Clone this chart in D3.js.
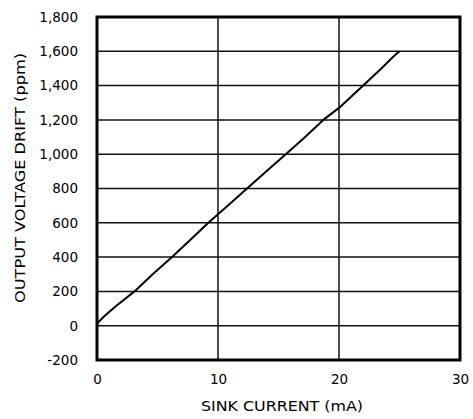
<!DOCTYPE html>
<html>
<head>
<meta charset="utf-8">
<script src="https://cdn.jsdelivr.net/npm/d3@7"></script>
<style>
  html, body { margin: 0; padding: 0; background: #fff; }
  svg { display: block; font-family: "DejaVu Sans", Arial, sans-serif; }
</style>
</head>
<body>
<svg id="chart" width="473" height="419"></svg>
<script>
// Output voltage drift versus sink current
const sinkCurrent = [0, 0.1, 0.6, 1.5, 3.1, 4.6, 6.2, 7.7, 9.2, 10.8, 12.4, 14.0, 15.6, 17.2, 18.7, 20.0, 22.0, 23.5, 24.5, 25.0];
const driftPpm    = [0, 20, 55, 110, 200, 300, 400, 500, 600, 700, 800, 900, 1000, 1100, 1200, 1270, 1400, 1500, 1570, 1600];
const xTicks = [0, 10, 20, 30];
const yTicks = [-200, 0, 200, 400, 600, 800, 1000, 1200, 1400, 1600, 1800];
const xTitle = "SINK CURRENT (mA)";
const yTitle = "OUTPUT VOLTAGE DRIFT (ppm)";

const svg = d3.select("#chart");
const m = { left: 97, right: 460, top: 17, bottom: 360 };
const font = "'DejaVu Sans', Arial, sans-serif";

const x = d3.scaleLinear().domain([0, 30]).range([m.left, m.right]);
const y = d3.scaleLinear().domain([-200, 1800]).range([m.bottom, m.top]);

// grid lines
svg.append("g")
  .selectAll("line")
  .data(yTicks)
  .join("line")
  .attr("x1", m.left).attr("x2", m.right)
  .attr("y1", d => y(d)).attr("y2", d => y(d))
  .attr("stroke", "#111").attr("stroke-width", 1.5);

svg.append("g")
  .selectAll("line")
  .data(xTicks)
  .join("line")
  .attr("x1", d => x(d)).attr("x2", d => x(d))
  .attr("y1", m.top).attr("y2", m.bottom)
  .attr("stroke", "#111").attr("stroke-width", 1.5);

// frame
svg.append("rect")
  .attr("x", m.left).attr("y", m.top)
  .attr("width", m.right - m.left).attr("height", m.bottom - m.top)
  .attr("fill", "none").attr("stroke", "#000").attr("stroke-width", 3);

// data curve
const line = d3.line().x((d, i) => x(sinkCurrent[i])).y(d => y(d));
svg.append("path")
  .datum(driftPpm)
  .attr("d", line)
  .attr("fill", "none")
  .attr("stroke", "#000")
  .attr("stroke-width", 2)
  .attr("stroke-linejoin", "round");

// axes (labels only); negative values use a plain hyphen
const fmt = d => d3.format(",")(d).replace("\u2212", "-");
const xAxis = d3.axisBottom(x).tickValues(xTicks).tickSize(0).tickPadding(14).tickFormat(d3.format("d"));
const yAxis = d3.axisLeft(y).tickValues(yTicks).tickSize(0).tickPadding(19).tickFormat(fmt);

const gx = svg.append("g").attr("transform", `translate(0,${m.bottom})`).call(xAxis);
const gy = svg.append("g").attr("transform", `translate(${m.left},0)`).call(yAxis);
[gx, gy].forEach(g => {
  g.select(".domain").remove();
  g.selectAll("text").attr("font-size", 13.5).attr("fill", "#000")
    .attr("font-family", font);
});

// axis titles
svg.append("text")
  .attr("x", 282).attr("y", 411)
  .attr("text-anchor", "middle")
  .attr("font-size", 14)
  .attr("textLength", 162).attr("lengthAdjust", "spacingAndGlyphs")
  .text(xTitle);

svg.append("text")
  .attr("transform", "translate(25,178) rotate(-90)")
  .attr("text-anchor", "middle")
  .attr("font-size", 14)
  .attr("textLength", 250).attr("lengthAdjust", "spacingAndGlyphs")
  .text(yTitle);
</script>
</body>
</html>
